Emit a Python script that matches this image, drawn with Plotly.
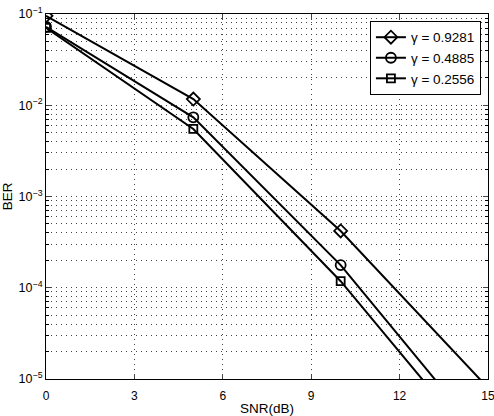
import plotly.graph_objects as go

snr = [0, 5, 10, 15]
ber_09281 = [0.0955, 0.0117, 4.19e-4, 8.0e-6]
ber_04885 = [0.0725, 0.00738, 1.77e-4, 1.95e-6]
ber_02556 = [0.0705, 0.0055, 1.18e-4, 1.35e-6]
labels = ["γ = 0.9281", "γ = 0.4885", "γ = 0.2556"]
symbols = ["diamond-open", "circle-open", "square-open"]
sizes = [10, 10, 8]

x_ticks = [0, 3, 6, 9, 12, 15]
y_ticks = [1e-5, 1e-4, 1e-3, 1e-2, 1e-1]
y_ticktext = ["10<sup>−5</sup>", "10<sup>−4</sup>", "10<sup>−3</sup>", "10<sup>−2</sup>", "10<sup>−1</sup>"]
minor_y = [m * d for d in [1e-5, 1e-4, 1e-3, 1e-2] for m in range(2, 10)]

fig = go.Figure()
for ys, name, sym, sz in zip([ber_09281, ber_04885, ber_02556], labels, symbols, sizes):
    fig.add_trace(go.Scatter(
        x=snr, y=ys, name=name, mode="lines+markers",
        line=dict(color="black", width=2),
        marker=dict(symbol=sym, size=sz, color="black", line=dict(width=1.8, color="black")),
    ))

font = "Liberation Sans, Arial, Helvetica, sans-serif"
grid = dict(showgrid=True, gridcolor="#444", griddash="1px,4px", gridwidth=1)
fig.update_layout(
    width=494, height=416,
    margin=dict(l=46, r=6, t=14, b=37),
    plot_bgcolor="white", paper_bgcolor="white",
    font=dict(family=font, size=12, color="black"),
    showlegend=True,
    legend=dict(
        x=0.984, y=0.981, xanchor="right", yanchor="top",
        bgcolor="white", bordercolor="black", borderwidth=1,
        font=dict(size=13.5, family=font), tracegroupgap=0,
    ),
    xaxis=dict(
        range=[0, 15], tickvals=x_ticks, ticks="inside", ticklen=5,
        showline=True, linecolor="black", linewidth=1, mirror="ticks",
        zeroline=False, ticklabelstandoff=6, automargin=False,
        ticklabeloverflow="allow",
        title=dict(text="SNR(dB)", font=dict(size=13.5), standoff=2),
        tickfont=dict(size=12),
        **grid,
    ),
    yaxis=dict(
        type="log", range=[-5, -1], tickvals=y_ticks, ticktext=y_ticktext,
        ticks="inside", ticklen=5, automargin=False,
        ticklabeloverflow="allow",
        showline=True, linecolor="black", linewidth=1, mirror="ticks",
        zeroline=False,
        title=dict(text="BER", font=dict(size=13.5), standoff=8),
        tickfont=dict(size=12.5),
        minor=dict(tickmode="array", tickvals=minor_y, ticks="inside", ticklen=3,
                   tickcolor="black", **grid),
        **grid,
    ),
)

fig.write_html("out.html")
